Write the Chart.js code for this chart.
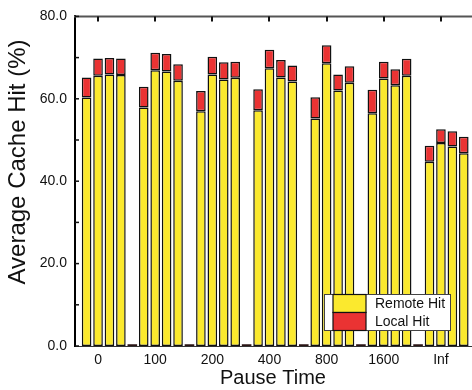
<!DOCTYPE html>
<html><head><meta charset="utf-8">
<script src="https://cdn.jsdelivr.net/npm/chart.js@4.4.0/dist/chart.umd.min.js"></script>
<style>html,body{margin:0;padding:0;background:#fff;}#wrap{width:472px;height:390px;position:relative;}</style>
</head><body><div id="wrap"><canvas id="c" width="472" height="390" style="width:472px;height:390px;"></canvas></div>
<script>
// ---- data ----
const groupLabels = ['0', '100', '200', '400', '800', '1600', 'Inf'];
const remoteHit = [
  [60.3, 65.6, 65.9, 65.8],
  [57.9, 66.9, 66.6, 64.4],
  [57.0, 65.9, 64.7, 65.1],
  [57.2, 67.4, 65.2, 64.2],
  [55.2, 68.6, 62.0, 63.9],
  [56.5, 64.9, 63.3, 65.6],
  [44.7, 49.3, 48.4, 46.8]
];
const localHit = [
  [4.9, 4.2, 4.0, 4.0],
  [5.0, 4.3, 4.3, 4.0],
  [4.9, 4.3, 4.2, 3.9],
  [5.1, 4.5, 4.2, 3.9],
  [5.2, 4.4, 3.9, 4.0],
  [5.7, 4.1, 3.9, 4.1],
  [3.9, 3.3, 3.7, 4.0]
];
const separatorMarks = [0.4, 0.4, 0.4, 0.4, 0.4, 0.4];
const yTickValues = [0, 10, 20, 30, 40, 50, 60, 70, 80];
const seriesNames = ['Remote Hit', 'Local Hit'];
const xTitle = 'Pause Time';
const yTitle = 'Average Cache Hit (%)';

// ---- build ----
const SLOTS = 5;
function toPoints(arr) {
  const pts = [];
  arr.forEach((grp, g) => grp.forEach((v, b) => pts.push({x: g * SLOTS + b, y: v})));
  return pts;
}
const sepPoints = separatorMarks.map((v, g) => ({x: g * SLOTS + 4, y: v}));
const labelPos = groupLabels.map((_, g) => g * SLOTS + 1);

const FONT = "'Liberation Sans', Arial, Helvetica, sans-serif";
const YELLOW = '#FBE92E', RED = '#EA3333', EDGE = '#111';

const framePlugin = {
  id: 'frame',
  afterDraw(chart) {
    const ctx = chart.ctx, a = chart.chartArea;
    const xs = chart.scales.x, ys = chart.scales.y;
    ctx.save();
    // top border
    ctx.strokeStyle = '#555'; ctx.lineWidth = 2;
    ctx.beginPath(); ctx.moveTo(a.left - 1, a.top); ctx.lineTo(chart.width, a.top); ctx.stroke();
    // top ticks
    ctx.strokeStyle = '#111'; ctx.lineWidth = 2;
    labelPos.forEach(v => {
      const px = Math.round(xs.getPixelForValue(v));
      ctx.beginPath(); ctx.moveTo(px, a.top); ctx.lineTo(px, a.top + 5); ctx.stroke();
    });
    // left inward ticks
    ctx.lineWidth = 1.5;
    yTickValues.forEach(v => {
      const py = ys.getPixelForValue(v);
      ctx.beginPath(); ctx.moveTo(a.left, py); ctx.lineTo(a.left + 4, py); ctx.stroke();
    });
    // y title
    ctx.fillStyle = '#111';
    ctx.font = '24px ' + FONT;
    ctx.textAlign = 'center'; ctx.textBaseline = 'middle';
    ctx.translate(18, 162); ctx.rotate(-Math.PI / 2);
    ctx.fillText(yTitle, 0, 0);
    ctx.restore();

    // legend box
    ctx.save();
    const lx = 324.5, ly = 294.5, lw = 126, lh = 36;
    ctx.fillStyle = '#fff'; ctx.fillRect(lx, ly, lw, lh);
    ctx.strokeStyle = '#444'; ctx.lineWidth = 1; ctx.strokeRect(lx, ly, lw, lh);
    const ds = chart.data.datasets;
    const sx = 333, sw = 33, sh = lh / 2;
    [0, 1].forEach(i => {
      ctx.fillStyle = ds[i].backgroundColor;
      ctx.fillRect(sx, ly + i * sh, sw, sh);
      ctx.strokeStyle = EDGE; ctx.lineWidth = 1.2;
      ctx.strokeRect(sx, ly + i * sh, sw, sh);
      ctx.fillStyle = '#111';
      ctx.font = '14px ' + FONT;
      ctx.textAlign = 'left'; ctx.textBaseline = 'middle';
      ctx.fillText(ds[i].label, 375, ly + i * sh + sh / 2 + 1);
    });
    ctx.restore();
  }
};

new Chart(document.getElementById('c'), {
  type: 'bar',
  data: {
    datasets: [
      {label: seriesNames[0], data: toPoints(remoteHit), backgroundColor: YELLOW, borderColor: EDGE, borderWidth: 1.5, borderSkipped: false},
      {label: seriesNames[1], data: toPoints(localHit), backgroundColor: RED, borderColor: EDGE, borderWidth: 1.5, borderSkipped: false},
      {label: 'sep', data: sepPoints, backgroundColor: '#2a1414', borderWidth: 0}
    ]
  },
  options: {
    responsive: false,
    maintainAspectRatio: false,
    animation: false,
    devicePixelRatio: 1,
    layout: {padding: {top: 14, right: 1, left: 0, bottom: 0}},
    datasets: {bar: {barPercentage: 0.84, categoryPercentage: 1}},
    plugins: {legend: {display: false}, tooltip: {enabled: false}},
    scales: {
      x: {
        type: 'linear', stacked: true, offset: false, min: -1.015, max: 33.63,
        grid: {display: false, drawTicks: false, offset: false},
        border: {display: true, color: '#333', width: 1},
        afterBuildTicks: s => { s.ticks = labelPos.map(v => ({value: v})); },
        afterFit: s => { s.height = 44; },
        ticks: {
          autoSkip: false, maxRotation: 0, padding: 6, color: '#111',
          font: {family: FONT, size: 14},
          callback: v => { const i = labelPos.indexOf(v); return i >= 0 ? groupLabels[i] : ''; }
        },
        title: {display: true, text: xTitle, color: '#111', font: {family: FONT, size: 20}, padding: {top: 2, bottom: 0}}
      },
      y: {
        stacked: true, min: 0, max: 80,
        grid: {display: false, drawTicks: false},
        border: {display: true, color: '#000', width: 2},
        afterBuildTicks: s => { s.ticks = yTickValues.map(v => ({value: v})); },
        afterFit: s => { s.width = 75; },
        ticks: {
          padding: 8, color: '#111', font: {family: FONT, size: 14},
          callback: v => (v % 20 === 0 ? v.toFixed(1) : '')
        }
      }
    }
  },
  plugins: [framePlugin]
});
</script>
</body></html>
